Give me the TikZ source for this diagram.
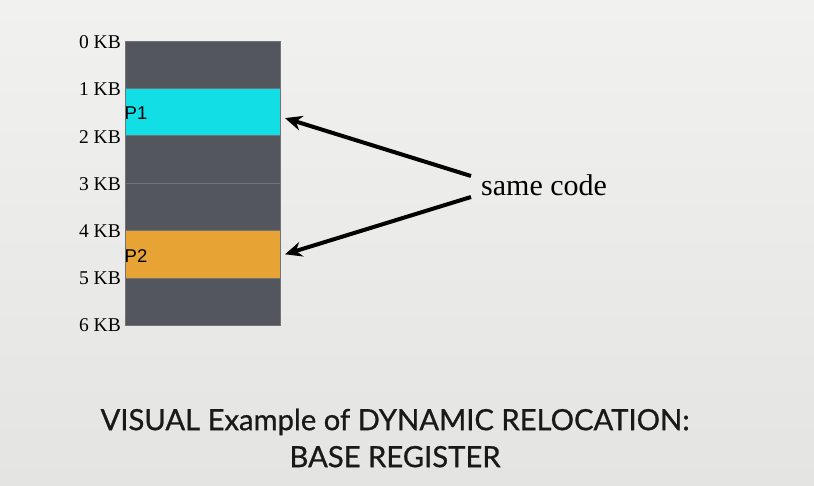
\documentclass[tikz,border=0pt]{standalone}
\usepackage{fontspec}
\setmainfont{Liberation Serif}
\newfontfamily\labsans{Liberation Sans}
\newfontfamily\titlefont[FakeBold=0.8]{Lato}
\usetikzlibrary{arrows.meta,calc}
\definecolor{bgtop}{RGB}{241,241,239}
\definecolor{bgbot}{RGB}{228,228,226}
\definecolor{memgray}{RGB}{83,86,93}
\definecolor{memline}{RGB}{112,116,120}
\definecolor{pcyan}{RGB}{18,222,229}
\definecolor{porange}{RGB}{232,163,53}
\begin{document}
\begin{tikzpicture}[x=1pt,y=-1pt,
  seg/.style={draw=memline,line width=0.8pt,minimum width=155pt,minimum height=47.4pt,inner sep=0pt,outer sep=0pt,anchor=north west},
  kb/.style={anchor=east,font=\fontsize{19.5}{19.5}\selectfont,inner sep=0pt},
  plab/.style={anchor=west,font=\labsans\fontsize{18.5}{18.5}\selectfont,inner sep=0pt},
  arr/.style={-{Stealth[length=17pt,width=15pt]},line width=4pt,black},
  ttl/.style={font=\titlefont\fontsize{29.2}{37}\selectfont,align=center,text=black!90}]
\useasboundingbox (0,0) rectangle (814,485);
\shade[top color=bgtop,bottom color=bgbot] (0,0) rectangle (814,485);
\node[seg,fill=memgray] (m0) at (125,41) {};
\node[seg,fill=pcyan] (m1) at (125,88.4) {};
\node[seg,fill=memgray] (m2) at (125,135.8) {};
\node[seg,fill=memgray] (m3) at (125,183.2) {};
\node[seg,fill=porange] (m4) at (125,230.6) {};
\node[seg,fill=memgray] (m5) at (125,278) {};
\node[kb] (k0) at (121,42) {0 KB};
\node[kb] (k1) at (121,89.5) {1 KB};
\node[kb] (k2) at (121,137) {2 KB};
\node[kb] (k3) at (121,184) {3 KB};
\node[kb] (k4) at (121,231.5) {4 KB};
\node[kb] (k5) at (121,278.5) {5 KB};
\node[kb] (k6) at (121,325) {6 KB};
\node[plab] (p1) at (124.5,113) {P1};
\node[plab] (p2) at (124.5,256) {P2};
\node[anchor=west,inner sep=0pt,font=\fontsize{30}{30}\selectfont] (sc) at (481,185) {same code};
\coordinate (a1) at (471,176);
\coordinate (a2) at (471,197);
\draw[arr] (a1) -- ($(m1.east)+(5,6)$);
\draw[arr] (a2) -- ($(m4.east)+(5,0)$);
\node[ttl] (t) at (395,438) {VISUAL Example of DYNAMIC RELOCATION:\\BASE REGISTER};
\end{tikzpicture}
\end{document}
